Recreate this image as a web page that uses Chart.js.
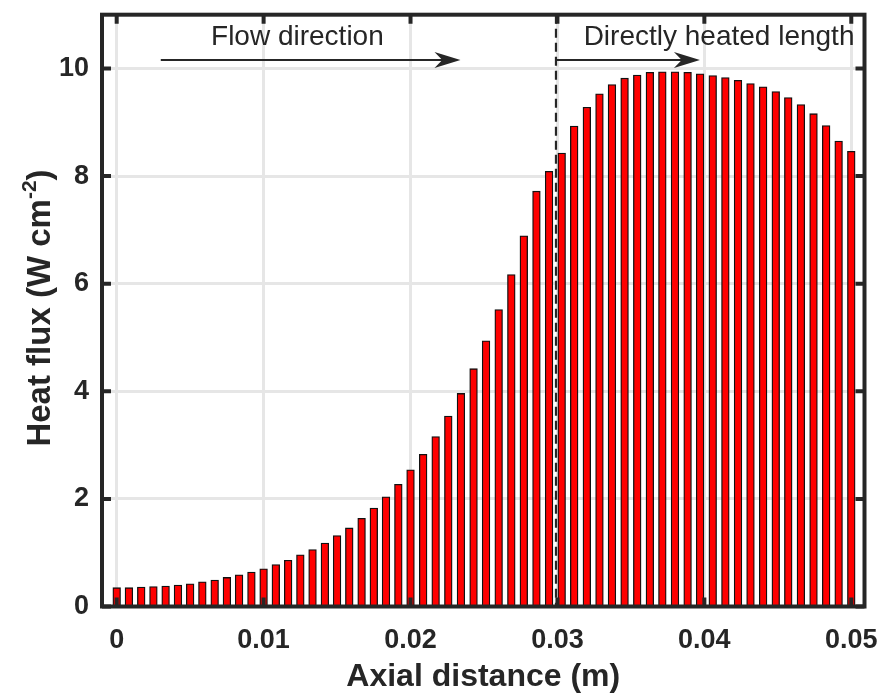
<!DOCTYPE html>
<html>
<head>
<meta charset="utf-8">
<title>Heat flux</title>
<script src="https://cdn.jsdelivr.net/npm/chart.js@4"></script>
<style>
  body { margin: 0; background: #fff; }
  #wrap { width: 878px; height: 695px; }
</style>
</head>
<body>
<div id="wrap"><canvas id="flux-chart" width="878" height="695"></canvas></div>
<script>
// axial positions of the bars (m)
const xPositions = [
    0, 0.00083, 0.00167, 0.0025, 0.00333, 0.00417, 0.005, 0.00583, 0.00667, 0.0075,
    0.00833, 0.00917, 0.01, 0.01083, 0.01167, 0.0125, 0.01333, 0.01417, 0.015, 0.01583,
    0.01667, 0.0175, 0.01833, 0.01917, 0.02, 0.02086, 0.02171, 0.02257, 0.02343, 0.02429,
    0.02514, 0.026, 0.02686, 0.02771, 0.02857, 0.02943, 0.03029, 0.03114, 0.032, 0.03286,
    0.03371, 0.03457, 0.03543, 0.03629, 0.03714, 0.038, 0.03886, 0.03971, 0.04057, 0.04143,
    0.04229, 0.04314, 0.044, 0.04486, 0.04571, 0.04657, 0.04743, 0.04829, 0.04914, 0.05
];
// heat flux (W cm^-2)
const heatFlux = [
    0.35, 0.35, 0.36, 0.37, 0.38, 0.40, 0.42, 0.46, 0.49, 0.54,
    0.59, 0.64, 0.70, 0.78, 0.86, 0.96, 1.06, 1.18, 1.32, 1.46,
    1.64, 1.83, 2.04, 2.27, 2.54, 2.83, 3.16, 3.54, 3.96, 4.42,
    4.94, 5.52, 6.17, 6.89, 7.72, 8.09, 8.43, 8.93, 9.28, 9.53,
    9.70, 9.82, 9.88, 9.93, 9.94, 9.94, 9.93, 9.90, 9.87, 9.83,
    9.78, 9.72, 9.66, 9.57, 9.46, 9.33, 9.16, 8.94, 8.65, 8.46
];
const xTickValues = [0, 0.01, 0.02, 0.03, 0.04, 0.05];
const xTickLabels = ['0', '0.01', '0.02', '0.03', '0.04', '0.05'];
const yTickValues = [0, 2, 4, 6, 8, 10];
const yTickLabels = ['0', '2', '4', '6', '8', '10'];

const heatedStart = 0.0299;
const ink = '#262626';
const fontFamily = '"Liberation Sans", Arial, Helvetica, sans-serif';

function arrow(ctx, x0, x1, y) {
    const L = 26, W = 8;
    ctx.strokeStyle = ink;
    ctx.fillStyle = ink;
    ctx.lineWidth = 2;
    ctx.beginPath();
    ctx.moveTo(x0, y);
    ctx.lineTo(x1 - L * 0.6, y);
    ctx.stroke();
    ctx.beginPath();
    ctx.moveTo(x1, y);
    ctx.lineTo(x1 - L, y - W);
    ctx.lineTo(x1 - L * 0.7, y);
    ctx.lineTo(x1 - L, y + W);
    ctx.closePath();
    ctx.fill();
}

const decorations = {
    id: 'decorations',
    afterDatasetsDraw(chart) {
        const ctx = chart.ctx;
        const { left, right, top, bottom } = chart.chartArea;
        const xs = chart.scales.x, ys = chart.scales.y;
        ctx.save();

        // dashed line at start of heated length
        const xd = xs.getPixelForValue(heatedStart);
        ctx.strokeStyle = ink;
        ctx.lineWidth = 2.2;
        ctx.setLineDash([9, 5]);
        ctx.beginPath();
        ctx.moveTo(xd, top);
        ctx.lineTo(xd, bottom);
        ctx.stroke();
        ctx.setLineDash([]);

        // inward tick marks
        ctx.lineWidth = 4;
        const tl = 9;
        xTickValues.forEach(v => {
            const p = xs.getPixelForValue(v);
            ctx.beginPath();
            ctx.moveTo(p, bottom); ctx.lineTo(p, bottom - tl);
            ctx.moveTo(p, top); ctx.lineTo(p, top + tl);
            ctx.stroke();
        });
        yTickValues.forEach(v => {
            const p = ys.getPixelForValue(v);
            ctx.beginPath();
            ctx.moveTo(left, p); ctx.lineTo(left + tl, p);
            ctx.moveTo(right, p); ctx.lineTo(right - tl, p);
            ctx.stroke();
        });

        // box
        ctx.strokeRect(left, top, right - left, bottom - top);

        // annotations
        const ya = ys.getPixelForValue(10.16);
        arrow(ctx, xs.getPixelForValue(0.003), xs.getPixelForValue(0.0234), ya);
        arrow(ctx, xd, xs.getPixelForValue(0.0397), ya);

        ctx.fillStyle = ink;
        ctx.font = '28px ' + fontFamily;
        ctx.textAlign = 'center';
        ctx.textBaseline = 'alphabetic';
        const yt = ys.getPixelForValue(10.44);
        ctx.fillText('Flow direction', xs.getPixelForValue(0.0123), yt);
        ctx.fillText('Directly heated length', xs.getPixelForValue(0.041), yt);

        // axis titles
        ctx.font = 'bold 32px ' + fontFamily;
        ctx.fillText('Axial distance (m)', (left + right) / 2, 686);

        ctx.translate(50, 308);
        ctx.rotate(-Math.PI / 2);
        ctx.textAlign = 'left';
        const main = 'Heat flux (W cm';
        const sup = '-2';
        const close = ')';
        ctx.font = 'bold 33px ' + fontFamily;
        const wMain = ctx.measureText(main).width;
        const wClose = ctx.measureText(close).width;
        ctx.font = 'bold 21px ' + fontFamily;
        const wSup = ctx.measureText(sup).width;
        let x = -(wMain + wSup + wClose) / 2;
        ctx.font = 'bold 33px ' + fontFamily;
        ctx.fillText(main, x, 0);
        x += wMain;
        ctx.font = 'bold 21px ' + fontFamily;
        ctx.fillText(sup, x, -14);
        x += wSup;
        ctx.font = 'bold 33px ' + fontFamily;
        ctx.fillText(close, x, 0);

        ctx.restore();
    }
};

const ctx = document.getElementById('flux-chart').getContext('2d');
new Chart(ctx, {
    type: 'bar',
    data: {
        datasets: [{
            data: xPositions.map((x, i) => ({ x: x, y: heatFlux[i] })),
            backgroundColor: '#ff0000',
            borderColor: '#111111',
            borderWidth: 1.3,
            barThickness: 7.7
        }]
    },
    options: {
        responsive: false,
        animation: false,
        layout: { padding: { top: 14.7, right: 13.5, left: 0, bottom: 0 } },
        plugins: { legend: { display: false }, tooltip: { enabled: false } },
        scales: {
            x: {
                type: 'linear',
                offset: false,
                min: -0.001,
                max: 0.0509,
                afterFit: s => { s.height = 88.5; s.paddingLeft = 0; s.paddingRight = 0; },
                afterBuildTicks: s => { s.ticks = xTickValues.map(v => ({ value: v })); },
                grid: { color: '#e6e6e6', lineWidth: 3, drawTicks: false, offset: false },
                border: { display: false },
                ticks: {
                    padding: 18,
                    maxRotation: 0,
                    autoSkip: false,
                    color: ink,
                    font: { family: fontFamily, size: 27, weight: 'bold' },
                    callback: (v) => xTickLabels[xTickValues.indexOf(v)]
                }
            },
            y: {
                min: 0,
                max: 11,
                afterFit: s => { s.width = 102; s.paddingTop = 0; s.paddingBottom = 0; },
                afterBuildTicks: s => { s.ticks = yTickValues.map(v => ({ value: v })); },
                grid: { color: '#e6e6e6', lineWidth: 3, drawTicks: false },
                border: { display: false },
                ticks: {
                    padding: 13,
                    color: ink,
                    font: { family: fontFamily, size: 27, weight: 'bold' },
                    callback: (v) => yTickLabels[yTickValues.indexOf(v)]
                }
            }
        }
    },
    plugins: [decorations]
});
</script>
</body>
</html>
